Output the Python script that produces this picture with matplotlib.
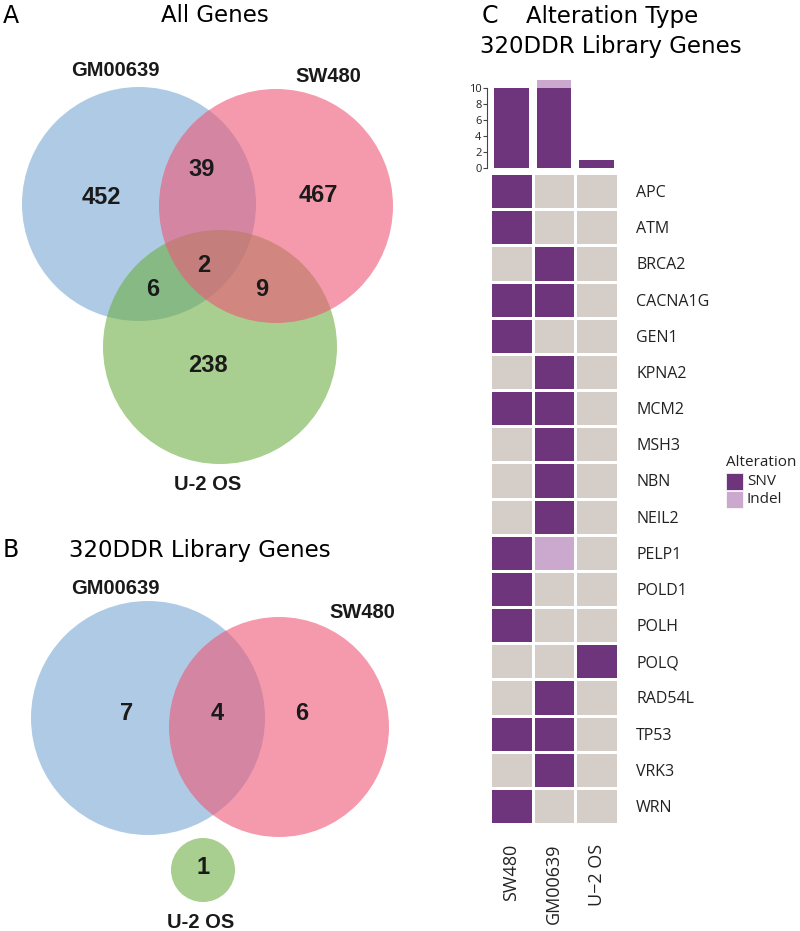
import matplotlib
matplotlib.use('Agg')
import matplotlib.pyplot as plt
from matplotlib.patches import Circle, Rectangle
from matplotlib.colors import ListedColormap
import numpy as np

# ---- data ----
samples_a = ['GM00639', 'SW480', 'U-2 OS']
# region counts: GM only, GM&SW, SW only, all three, GM&U2, SW&U2, U2 only
counts_a = [452, 39, 467, 2, 6, 9, 238]
samples_b = ['GM00639', 'SW480', 'U-2 OS']
# GM only, GM&SW, SW only, U2 only
counts_b = [7, 4, 6, 1]

genes = ['APC', 'ATM', 'BRCA2', 'CACNA1G', 'GEN1', 'KPNA2', 'MCM2', 'MSH3', 'NBN',
         'NEIL2', 'PELP1', 'POLD1', 'POLH', 'POLQ', 'RAD54L', 'TP53', 'VRK3', 'WRN']
cols = ['SW480', 'GM00639', 'U\u22122 OS']
sw480 = ['SNV', 'SNV', '', 'SNV', 'SNV', '', 'SNV', '', '', '', 'SNV', 'SNV', 'SNV', '', '', 'SNV', '', 'SNV']
gm00639 = ['', '', 'SNV', 'SNV', '', 'SNV', 'SNV', 'SNV', 'SNV', 'SNV', 'Indel', '', '', '', 'SNV', 'SNV', 'SNV', '']
u2os = ['', '', '', '', '', '', '', '', '', '', '', '', '', 'SNV', '', '', '', '']

# ---- colours ----
blue = (120/255, 168/255, 213/255)
red = (238/255, 87/255, 117/255)
green = (110/255, 175/255, 68/255)
snv_c = '#6e357c'
indel_c = '#cba9cf'
grey_c = '#d5cdc8'

W, H = 800, 931
fig = plt.figure(figsize=(W/100, H/100), dpi=100)
bg = fig.add_axes([0, 0, 1, 1])
bg.set_xlim(0, W)
bg.set_ylim(H, 0)
bg.axis('off')

title_font = 'DejaVu Sans'
bold_font = 'Liberation Sans'
tsize = 16.5

def venn(ax, circles, names, name_pos, counts, count_pos):
    # draw order blue, green, red (red sits on top)
    for i in [0, 2, 1]:
        cx, cy, r = circles[i]
        col = [blue, red, green][i]
        ax.add_patch(Circle((cx, cy), r, facecolor=col, alpha=0.6, edgecolor='none'))
    for n, (x, y) in zip(names, name_pos):
        ax.text(x, y, n, ha='center', va='center', fontsize=14.5, fontweight='bold',
                family=bold_font, color='#1a1a1a')
    for c, (x, y) in zip(counts, count_pos):
        ax.text(x, y, str(c), ha='center', va='center', fontsize=17, fontweight='bold',
                family=bold_font, color='#1a1a1a')

# panel A
venn(bg, [(139, 204, 117), (276, 206, 117), (220, 347, 117)], samples_a,
     [(115, 71), (328, 77), (208, 485)], counts_a,
     [(101, 198), (202, 170), (318, 196), (204, 266), (153, 290), (262, 289), (208, 366)])
bg.text(3, 16, 'A', fontsize=17, va='center', family=title_font, fontweight='normal')
bg.text(215, 16, 'All Genes', fontsize=tsize, ha='center', va='center', family=title_font)

# panel B
venn(bg, [(148, 718, 117), (279, 727, 110), (203, 870, 32)], samples_b,
     [(115, 588), (362, 613), (201, 922)], counts_b,
     [(127, 713), (217, 713), (302, 713), (203, 868)])
bg.text(3, 550, 'B', fontsize=17, va='center', family=title_font, fontweight='normal')
bg.text(200, 551, '320DDR Library Genes', fontsize=tsize, ha='center', va='center', family=title_font)

# panel C
bg.text(482, 16, 'C', fontsize=17, va='center', family=title_font, fontweight='normal')
bg.text(612, 17, 'Alteration Type', fontsize=tsize, ha='center', va='center', family=title_font)
bg.text(611, 47, '320DDR Library Genes', fontsize=tsize, ha='center', va='center', family=title_font)

code = {'': 0, 'SNV': 1, 'Indel': 2}
mat = np.array([[code[v] for v in col] for col in [sw480, gm00639, u2os]]).T

hx0, hx1, hy0, hy1 = 490, 618, 173, 824
hm = fig.add_axes([hx0/W, 1 - hy1/H, (hx1-hx0)/W, (hy1-hy0)/H])
hm.pcolormesh(mat, cmap=ListedColormap([grey_c, snv_c, indel_c]), vmin=-0.5, vmax=2.5,
              edgecolors='white', linewidth=2)
hm.set_xlim(0, 3)
hm.set_ylim(len(genes), 0)
for s in hm.spines.values():
    s.set_visible(False)
hm.set_yticks(np.arange(len(genes)) + 0.5)
hm.set_yticklabels(genes, family='Open Sans', fontsize=11.5, color='#222222')
hm.yaxis.tick_right()
hm.tick_params(axis='y', length=0, pad=13)
hm.set_xticks(np.arange(3) + 0.5)
hm.set_xticklabels(cols, rotation=90, family='Open Sans', fontsize=13, color='#222222')
hm.tick_params(axis='x', length=0, pad=14)

# stacked bars on top
snv_counts = [sum(v == 'SNV' for v in c) for c in [sw480, gm00639, u2os]]
indel_counts = [sum(v == 'Indel' for v in c) for c in [sw480, gm00639, u2os]]
bx = fig.add_axes([hx0/W, 1 - 168/H, (hx1-hx0)/W, 88/H])
xs = np.arange(3) + 0.5
bx.bar(xs, snv_counts, width=0.82, color=snv_c)
bx.bar(xs, indel_counts, bottom=snv_counts, width=0.82, color=indel_c)
bx.set_xlim(0, 3)
bx.set_ylim(0, 11)
bx.set_yticks([0, 2, 4, 6, 8, 10])
bx.set_xticks([])
for k in ['top', 'right', 'bottom']:
    bx.spines[k].set_visible(False)
bx.spines['left'].set_position(('outward', 2))
bx.spines['left'].set_color('#444444')
bx.spines['left'].set_bounds(0, 10)
bx.tick_params(axis='y', labelsize=8, length=3, color='#444444', pad=1, labelcolor='#222222')
for t in bx.get_yticklabels():
    t.set_family('Open Sans')

# legend
bg.text(726, 462, 'Alteration', fontsize=11, va='center', family='Open Sans', color='#222222')
for i, (lab, col) in enumerate([('SNV', snv_c), ('Indel', indel_c)]):
    y = 473 + i * 18
    bg.add_patch(Rectangle((726, y), 17, 17, facecolor=col, edgecolor='white', linewidth=0.5))
    bg.text(747, y + 8.5, lab, fontsize=11, va='center', family='Open Sans', color='#222222')

fig.savefig('out.png', dpi=100)
